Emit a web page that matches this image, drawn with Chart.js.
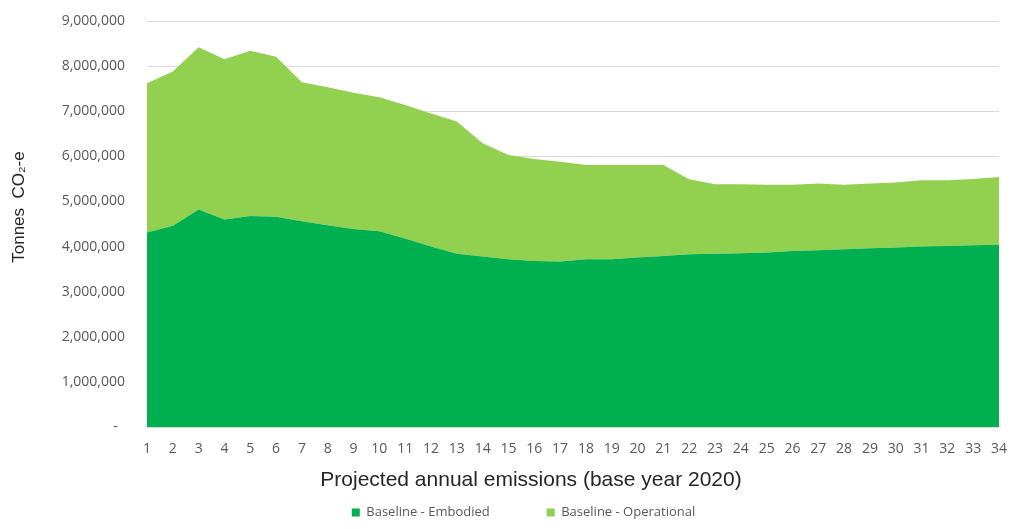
<!DOCTYPE html>
<html>
<head>
<meta charset="utf-8">
<script src="https://cdn.jsdelivr.net/npm/chart.js@4.4.1/dist/chart.umd.min.js"></script>
<style>
  html, body { margin: 0; padding: 0; background: #fff; }
  #wrap { width: 1013px; height: 529px; position: relative; }
</style>
</head>
<body>
<div id="wrap"><canvas id="emissionsChart"></canvas></div>
<script>
// year index since base year 2020
const years = ['1','2','3','4','5','6','7','8','9','10','11','12','13','14','15','16','17',
               '18','19','20','21','22','23','24','25','26','27','28','29','30','31','32','33','34'];

// tonnes CO2-e
const embodied = [4310000, 4460000, 4820000, 4600000, 4680000, 4660000, 4560000, 4470000, 4390000, 4340000,
                  4180000, 4000000, 3840000, 3780000, 3720000, 3680000, 3670000, 3720000, 3720000, 3760000,
                  3790000, 3830000, 3840000, 3850000, 3870000, 3900000, 3920000, 3940000, 3960000, 3980000,
                  4000000, 4010000, 4030000, 4040000];
const operational = [3310000, 3420000, 3600000, 3550000, 3660000, 3550000, 3080000, 3060000, 3020000, 2970000,
                     2960000, 2950000, 2930000, 2510000, 2310000, 2260000, 2210000, 2090000, 2090000, 2050000,
                     2020000, 1660000, 1540000, 1530000, 1500000, 1470000, 1480000, 1430000, 1440000, 1440000,
                     1470000, 1460000, 1470000, 1500000];

const seriesNames = ['Baseline - Embodied', 'Baseline - Operational'];
const xTitle = 'Projected annual emissions (base year 2020)';
const yTitle = 'Tonnes  CO\u2082-e';

const tickGrey = '#595959';

// axis titles drawn where the original puts them
const axisTitles = {
    id: 'axisTitles',
    afterDraw(chart) {
        const ctx = chart.ctx;
        ctx.save();
        ctx.fillStyle = '#262626';
        ctx.textAlign = 'center';
        ctx.textBaseline = 'middle';
        ctx.font = '21px "Liberation Sans", Arial, sans-serif';
        ctx.fillText(xTitle, 531, 480);
        ctx.translate(19, 207);
        ctx.rotate(-Math.PI / 2);
        ctx.font = '17px "Liberation Sans", Arial, sans-serif';
        ctx.fillText(yTitle, 0, 0);
        ctx.restore();
    }
};

const ctx = document.getElementById('emissionsChart').getContext('2d');
new Chart(ctx, {
    type: 'line',
    data: {
        labels: years,
        datasets: [{
            label: seriesNames[0],
            data: embodied,
            backgroundColor: '#00b050',
            borderColor: '#00b050',
            borderWidth: 0,
            pointRadius: 0,
            fill: 'origin'
        }, {
            label: seriesNames[1],
            data: operational,
            backgroundColor: '#92d050',
            borderColor: '#92d050',
            borderWidth: 0,
            pointRadius: 0,
            fill: '-1'
        }]
    },
    options: {
        responsive: true,
        maintainAspectRatio: false,
        animation: false,
        layout: { padding: { left: 48, right: 14, top: 21, bottom: 0 } },
        plugins: {
            legend: {
                position: 'bottom',
                labels: {
                    boxWidth: 8,
                    boxHeight: 8,
                    padding: 5,
                    color: tickGrey,
                    font: { family: '"Open Sans", sans-serif', size: 13 },
                    generateLabels(chart) {
                        const items = Chart.defaults.plugins.legend.labels.generateLabels(chart);
                        items[0].text = items[0].text + '\u2003\u2003\u2003\u2003';
                        return items;
                    }
                }
            },
            tooltip: { enabled: false }
        },
        scales: {
            x: {
                offset: false,
                grid: { display: false, drawTicks: true, tickLength: 12, tickColor: 'rgba(0,0,0,0)' },
                border: { display: false },
                ticks: {
                    color: tickGrey,
                    padding: 2,
                    maxRotation: 0,
                    autoSkip: false,
                    font: { family: '"Open Sans", sans-serif', size: 14 }
                },
                afterFit(scale) { scale.height = 74; }
            },
            y: {
                stacked: true,
                min: 0,
                max: 9000000,
                grid: { color: '#d9d9d9', lineWidth: 1, drawTicks: true, tickLength: 20, tickColor: 'rgba(0,0,0,0)' },
                border: { display: false },
                ticks: {
                    stepSize: 1000000,
                    color: tickGrey,
                    padding: 2,
                    font: { family: '"Open Sans", sans-serif', size: 14 },
                    callback(value) {
                        return value === 0 ? '-  ' : value.toLocaleString('en-US');
                    }
                },
                afterFit(scale) { scale.width = 99; }
            }
        }
    },
    plugins: [axisTitles]
});
</script>
</body>
</html>
